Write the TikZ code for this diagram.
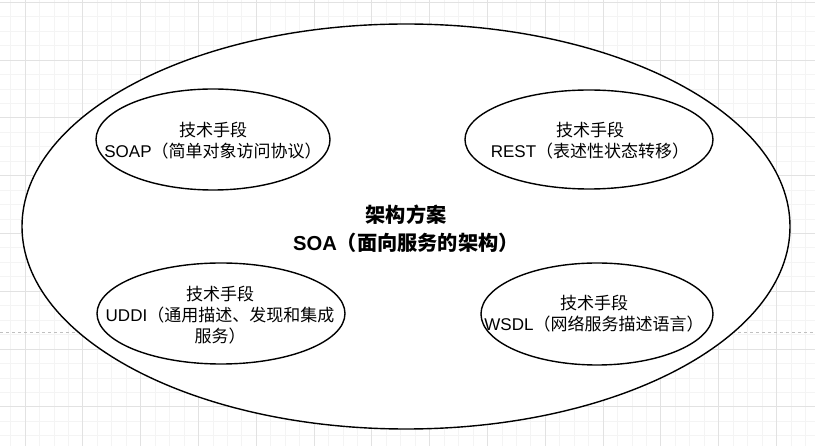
\documentclass[tikz,border=0pt]{standalone}
\usepackage{fontspec}
\setmainfont{Liberation Sans}
\newfontfamily\cjk{Noto Sans CJK SC}
\usetikzlibrary{shapes.geometric}
\definecolor{gridMinor}{RGB}{244,244,244}
\definecolor{gridMajor}{RGB}{226,226,226}
\definecolor{pageBreak}{RGB}{192,192,192}
\newcommand{\zh}[1]{{\cjk #1}}

\begin{document}
\begin{tikzpicture}[x=1pt,y=-1pt,
  oval/.style={
    draw=black, fill=white, ellipse, line width=1.4pt,
    inner sep=0pt
  },
  tech/.style={font=\fontsize{17}{21}\selectfont, align=center, inner sep=0pt},
  title/.style={font=\fontsize{20.2}{28}\selectfont\bfseries, align=center, inner sep=0pt},
  brk/.style={pageBreak, dash pattern=on 3pt off 3pt, line width=0.8pt}
]
\useasboundingbox[fill=white] (0,0) rectangle (815,446);

% background grid
\foreach \i in {-1,...,55}
  \draw[gridMinor, line width=0.7pt] ({25+\i*14.45},0) -- ({25+\i*14.45},446);
\foreach \i in {0,...,31}
  \draw[gridMinor, line width=0.7pt] (0,{2.2+\i*14.45}) -- (815,{2.2+\i*14.45});
\foreach \i in {0,...,14}
  \draw[gridMajor, line width=0.7pt] ({25+\i*57.8},0) -- ({25+\i*57.8},446);
\foreach \i in {0,...,7}
  \draw[gridMajor, line width=0.7pt] (0,{2.2+\i*57.8}) -- (815,{2.2+\i*57.8});
\draw[brk] (0,332) -- (815,332);

\node[oval, minimum width=768, minimum height=405] (soa) at (406,226.5) {};
\node[title] (soaTxt) at (406,229)
  {\zh{架构方案}\\SOA\zh{（面向服务的架构）}};

\node[oval, minimum width=234, minimum height=101] (soap) at (213,139.5) {};
\node[tech] (soapTxt) at (213,141)
  {\zh{技术手段}\\SOAP\zh{（简单对象访问协议）}};

\node[oval, minimum width=248, minimum height=99] (rest) at (589,139.5) {};
\node[tech] (restTxt) at (590,141)
  {\zh{技术手段}\\REST\zh{（表述性状态转移）}};

\node[oval, minimum width=248, minimum height=101] (uddi) at (221,313.5) {};
\node[tech] (uddiTxt) at (220,315)
  {\zh{技术手段}\\UDDI\zh{（通用描述、发现和集成}\\\zh{服务）}};

\node[oval, minimum width=232, minimum height=102] (wsdl) at (597,314) {};
\node[tech] (wsdlTxt) at (594,314)
  {\zh{技术手段}\\WSDL\zh{（网络服务描述语言）}};

\end{tikzpicture}
\end{document}
